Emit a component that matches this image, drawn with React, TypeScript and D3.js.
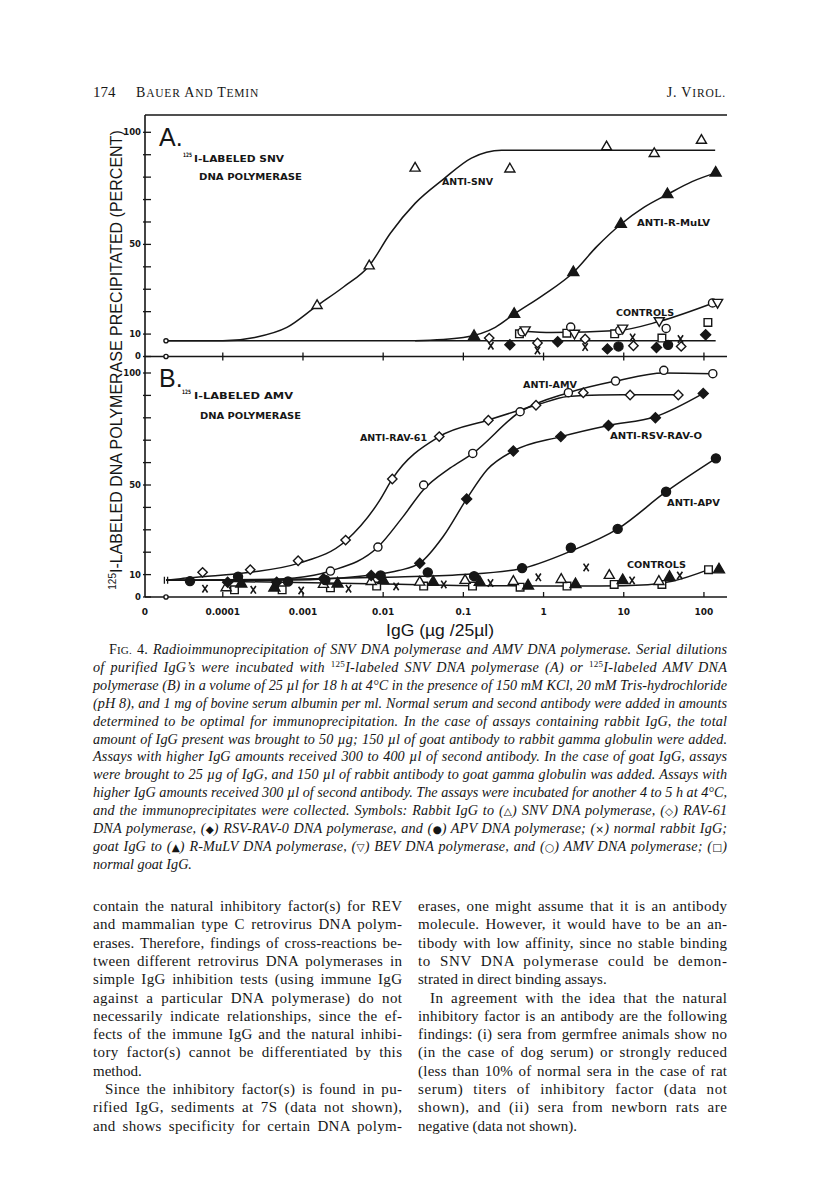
import * as d3 from "d3";
import { useEffect, useRef } from "react";

type Pt = [number, number];

// x = IgG (µg / 25 µl), 0 = no IgG (drawn at the axis break); y = % precipitated

// ---- panel A : 125I-labeled SNV DNA polymerase ----
const aSnvPts: Pt[] = [[0.0015, 22.7], [0.0067, 40.4], [0.025, 84], [0.38, 83.6], [6.1, 93.5], [24, 90.5], [93, 96.4]];
const aSnvFit: Pt[] = [[0, 7], [0.0001, 7], [0.00025, 8.5], [0.00063, 13], [0.0015, 22.7], [0.0032, 31], [0.0067, 40.5], [0.0123, 55], [0.025, 68.3], [0.056, 79], [0.126, 88.5], [0.3, 92], [10, 92], [138, 92]];
const aBaseFit: Pt[] = [[0, 7], [140, 7]];
const aRmulvPts: Pt[] = [[0.136, 9], [0.43, 18.9], [2.35, 37.5], [9.2, 59], [35, 72.3], [140, 81.9]];
const aRmulvFit: Pt[] = [[0.025, 7], [0.1, 8.5], [0.25, 13], [0.43, 18.9], [1, 27.5], [2.35, 37.5], [4.6, 49], [9.2, 59], [17.8, 66.5], [35, 72.3], [71, 78], [140, 81.9]];
const aBevFit: Pt[] = [[0.55, 11.3], [1.26, 10.7], [8.5, 11.6], [28, 15.7], [141, 24.3]];
const aRav61: Pt[] = [[0.21, 8.2], [0.84, 6.0], [3.3, 7.8], [13.2, 4.8], [52, 4.5]];
const aRabbit: Pt[] = [[0.22, 4.8], [0.84, 2.7], [3.3, 4.2], [12.9, 8.5], [51, 7.8]];
const aRsv: Pt[] = [[0.38, 5.2], [1.5, 6.6], [6.25, 3.4], [25.6, 4.0], [105, 9.7]];
const aGoat: Pt[] = [[0.5, 10.1], [1.95, 10.4], [7.7, 10.1], [29.9, 8.2], [112, 15.2]];
const aAmv: Pt[] = [[0.54, 11.0], [2.18, 13.1], [8.9, 11.6], [33.8, 12.5], [128, 23.9]];
const aBev: Pt[] = [[0.59, 11.9], [2.43, 10.4], [9.7, 12.7], [27.7, 16], [148, 24.2]];
const aApv: Pt[] = [[8.6, 4.5], [35.7, 5.2]];
const aZero: Pt[] = [[0, 7], [0, 0]];

// ---- panel B : 125I-labeled AMV DNA polymerase ----
const bRav61Pts: Pt[] = [[0.000056, 11.0], [0.00022, 12.2], [0.00087, 16.2], [0.0034, 25.4], [0.013, 52.7], [0.05, 71.6], [0.205, 78.9], [0.805, 85.6], [3.13, 91.2], [12, 90.2], [47.9, 90.2]];
const bRav61Fit: Pt[] = [[0, 7.5], [0.00003, 8.2], [0.000056, 9], [0.00022, 11], [0.00087, 15], [0.0034, 25], [0.009, 43], [0.013, 52.7], [0.05, 71.6], [0.205, 79], [0.805, 85.6], [2, 89.5], [5, 90.2], [48, 90.3]];
const bAmvPts: Pt[] = [[0.0022, 11.6], [0.0086, 22.3], [0.032, 50], [0.131, 64.1], [0.51, 82.7], [2.04, 91.2], [7.9, 96.4], [31.6, 101.2], [129, 99.7]];
const bAmvFit: Pt[] = [[0, 7.5], [0.0002, 7.5], [0.00079, 8.5], [0.0022, 11.6], [0.0086, 22.3], [0.0178, 36], [0.032, 48], [0.068, 57.5], [0.131, 64.1], [0.51, 82.7], [2.04, 91.2], [7.9, 96.4], [31.6, 100], [129, 99.7]];
const bRsvPts: Pt[] = [[0.000115, 6.6], [0.00047, 6.6], [0.0018, 8.1], [0.0071, 9.6], [0.0286, 15.1], [0.11, 43.8], [0.42, 65.2], [1.64, 71.6], [6.45, 76.6], [24.8, 80], [98, 90.9]];
const bRsvFit: Pt[] = [[0, 7.5], [0.0005, 7.5], [0.003, 8.5], [0.0071, 9.8], [0.0155, 11.8], [0.0286, 15.1], [0.056, 27], [0.11, 43.8], [0.2, 57], [0.42, 65.2], [1.64, 71.6], [6.45, 76.6], [24.8, 80.5], [98, 90.9]];
const bApvPts: Pt[] = [[0.000039, 7.1], [0.000155, 9.1], [0.00065, 6.9], [0.0019, 7.6], [0.0093, 9.6], [0.036, 11.0], [0.136, 9.3], [0.54, 12.9], [2.19, 22], [8.4, 30.4], [33.7, 47], [141, 61.9]];
const bApvFit: Pt[] = [[0, 7.5], [0.001, 8], [0.01, 8.8], [0.1, 10], [0.5, 12.5], [2.19, 20.5], [8.4, 30.4], [33.7, 47], [141, 61.9]];
const bSnv: Pt[] = [[0.00011, 4.1], [0.0018, 5.6], [0.0071, 6.9], [0.0286, 6.6], [0.105, 7.4], [0.42, 6.9], [1.66, 7.8], [6.6, 9.6], [27.4, 6.9]];
const bRmulv: Pt[] = [[0.00017, 5.9], [0.00044, 4.1], [0.0027, 5.9], [0.01, 7.4], [0.042, 6.6], [0.16, 6.6], [0.64, 5.0], [2.5, 5.6], [9.7, 7.4], [37.2, 8.8], [154, 12.2]];
const bRabbit: Pt[] = [[0.00006, 3.7], [0.00024, 3.2], [0.00095, 2.9], [0.0037, 3.7], [0.0145, 4.7], [0.057, 5.6], [0.218, 6.2], [0.86, 8.8], [3.4, 13.2], [12.7, 7.4], [50, 9.6]];
const bGoat: Pt[] = [[0.00014, 3.2], [0.00055, 3.2], [0.0022, 4.1], [0.0083, 4.9], [0.032, 4.9], [0.13, 4.9], [0.51, 4.4], [1.96, 4.9], [7.6, 5.6], [29.9, 5.6], [114, 12.2]];
const bCtrlFit: Pt[] = [[0.0001, 7], [0.01, 5.8], [0.3, 5], [5, 4.9], [20, 5.5], [40, 7], [114, 12.2]];
const bZero: Pt[] = [[0, 0]];
const bBreak: Pt[] = [[0, 7.5]];

// axis ticks
const xTicks = [0.0001, 0.001, 0.01, 0.1, 1, 10, 100];
const xTickLabels = ["0.0001", "0.001", "0.01", "0.1", "1", "10", "100"];
const yMinor = [0, 10, 20, 30, 40, 50, 60, 70, 80, 90, 100];
const yLabeled = [0, 10, 50, 100];

const captionLines = [
  "§FIG. 4.§ Radioimmunoprecipitation of SNV DNA polymerase and AMV DNA polymerase. Serial dilutions",
  "of purified IgG’s were incubated with ^125^I-labeled SNV DNA polymerase (A) or ^125^I-labeled AMV DNA",
  "polymerase (B) in a volume of 25 µl for 18 h at 4°C in the presence of 150 mM KCl, 20 mM Tris-hydrochloride",
  "(pH 8), and 1 mg of bovine serum albumin per ml. Normal serum and second antibody were added in amounts",
  "determined to be optimal for immunoprecipitation. In the case of assays containing rabbit IgG, the total",
  "amount of IgG present was brought to 50 µg; 150 µl of goat antibody to rabbit gamma globulin were added.",
  "Assays with higher IgG amounts received 300 to 400 µl of second antibody. In the case of goat IgG, assays",
  "were brought to 25 µg of IgG, and 150 µl of rabbit antibody to goat gamma globulin was added. Assays with",
  "higher IgG amounts received 300 µl of second antibody. The assays were incubated for another 4 to 5 h at 4°C,",
  "and the immunoprecipitates were collected. Symbols: Rabbit IgG to ([△]) SNV DNA polymerase, ([◇]) RAV-61",
  "DNA polymerase, ([◆]) RSV-RAV-0 DNA polymerase, and ([●]) APV DNA polymerase; ([×]) normal rabbit IgG;",
  "goat IgG to ([▲]) R-MuLV DNA polymerase, ([▽]) BEV DNA polymerase, and ([○]) AMV DNA polymerase; ([□])",
  "normal goat IgG.",
];

// [text, indent, justify]
const leftCol: [string, boolean, boolean][] = [
  ["contain the natural inhibitory factor(s) for REV", false, true],
  ["and mammalian type C retrovirus DNA polym-", false, true],
  ["erases. Therefore, findings of cross-reactions be-", false, true],
  ["tween different retrovirus DNA polymerases in", false, true],
  ["simple IgG inhibition tests (using immune IgG", false, true],
  ["against a particular DNA polymerase) do not", false, true],
  ["necessarily indicate relationships, since the ef-", false, true],
  ["fects of the immune IgG and the natural inhibi-", false, true],
  ["tory factor(s) cannot be differentiated by this", false, true],
  ["method.", false, false],
  ["Since the inhibitory factor(s) is found in pu-", true, true],
  ["rified IgG, sediments at 7S (data not shown),", false, true],
  ["and shows specificity for certain DNA polym-", false, true],
];
const rightCol: [string, boolean, boolean][] = [
  ["erases, one might assume that it is an antibody", false, true],
  ["molecule. However, it would have to be an an-", false, true],
  ["tibody with low affinity, since no stable binding", false, true],
  ["to SNV DNA polymerase could be demon-", false, true],
  ["strated in direct binding assays.", false, false],
  ["In agreement with the idea that the natural", true, true],
  ["inhibitory factor is an antibody are the following", false, true],
  ["findings: (i) sera from germfree animals show no", false, true],
  ["(in the case of dog serum) or strongly reduced", false, true],
  ["(less than 10% of normal sera in the case of rat", false, true],
  ["serum) titers of inhibitory factor (data not", false, true],
  ["shown), and (ii) sera from newborn rats are", false, true],
  ["negative (data not shown).", false, false],
];

const SERIF = "'Liberation Serif', 'Times New Roman', serif";
const LETTER = "'DejaVu Sans', sans-serif";
const INK = "#161616";

// spread a line to the target width: part of the slack between letters, the rest between words
function justify(t: d3.Selection<SVGTextElement, unknown, null, undefined>, width: number) {
  const node = t.node()!;
  const txt = node.textContent || "";
  const len = node.getComputedTextLength();
  const slack = width - len;
  const spaces = txt.split(" ").length - 1;
  const chars = txt.length - 1;
  if (spaces <= 0) return;
  const ls = slack > 0 ? (slack * 0.45) / chars : 0;
  const ws = (slack - ls * chars) / spaces;
  t.style("letter-spacing", `${ls}px`).style("word-spacing", `${ws}px`);
}

export default function App() {
  const svgRef = useRef<SVGSVGElement>(null);

  useEffect(() => {
    const svg = d3.select(svgRef.current);
    svg.selectAll("*").remove();

    const left = 145, right = 727, top = 115;
    const x = d3.scaleLog().domain([10 ** -4.97, 10 ** 2.275]).range([left, 726]);
    const zeroX = 166;
    const xPos = (v: number) => (v === 0 ? zeroX : x(v));
    const yA = d3.scaleLinear().domain([0, 100]).range([356.5, 132.3]);
    const yB = d3.scaleLinear().domain([0, 100]).range([597, 373]);

    svg.append("rect").attr("width", 816).attr("height", 1189).attr("fill", "#fff");

    // running head
    const head = svg.append("g").attr("fill", INK).attr("font-family", SERIF);
    head.append("text").attr("x", 93).attr("y", 97).attr("font-size", 15).text("174");
    const bt = head.append("text").attr("x", 136).attr("y", 97).attr("font-size", 14).attr("letter-spacing", 0.8);
    [["B", 14], ["AUER ", 11.5], ["A", 14], ["ND ", 11.5], ["T", 14], ["EMIN", 11.5]].forEach(([s, f]) =>
      bt.append("tspan").attr("font-size", f).text(s as string));
    const jt = head.append("text").attr("x", 726).attr("y", 97).attr("text-anchor", "end").attr("letter-spacing", 0.8);
    [["J. V", 14], ["IROL.", 11.5]].forEach(([s, f]) => jt.append("tspan").attr("font-size", f).text(s as string));

    const plot = svg.append("g");
    const frame = plot.append("g").attr("stroke", INK).attr("stroke-width", 1.6);
    frame.append("line").attr("x1", left).attr("x2", left).attr("y1", top).attr("y2", yB(0));
    frame.append("line").attr("x1", left).attr("x2", right).attr("y1", top).attr("y2", top);
    frame.append("line").attr("x1", left).attr("x2", right).attr("y1", yA(0)).attr("y2", yA(0));
    frame.append("line").attr("x1", left).attr("x2", right).attr("y1", yB(0)).attr("y2", yB(0));

    // x ticks on the panel divider and on the bottom axis
    plot.append("g").selectAll("line").data(xTicks).join("line")
      .attr("x1", d => x(d)).attr("x2", d => x(d))
      .attr("y1", yB(0)).attr("y2", yB(0) - 5)
      .attr("stroke", INK).attr("stroke-width", 1.3);
    plot.append("g").selectAll("line").data(xTicks).join("line")
      .attr("x1", d => x(d)).attr("x2", d => x(d))
      .attr("y1", yA(0) - 4).attr("y2", yA(0) + 4)
      .attr("stroke", INK).attr("stroke-width", 1.3);

    plot.append("g").selectAll("text").data(xTicks).join("text")
      .attr("x", d => x(d)).attr("y", 615)
      .attr("text-anchor", "middle").attr("font-family", LETTER).attr("font-weight", "bold")
      .attr("font-size", 9).attr("fill", INK)
      .text((d, i) => xTickLabels[i]);
    plot.append("text").attr("x", left).attr("y", 615).attr("text-anchor", "middle")
      .attr("font-family", LETTER).attr("font-weight", "bold").attr("font-size", 9).attr("fill", INK).text("0");

    plot.append("text").attr("x", 440).attr("y", 636).attr("text-anchor", "middle")
      .attr("font-family", "'Liberation Sans', sans-serif").attr("font-size", 16.5).attr("fill", INK)
      .attr("textLength", 108).attr("lengthAdjust", "spacingAndGlyphs")
      .text("IgG (µg /25µl)");

    // y axes for both panels
    [yA, yB].forEach(y => {
      plot.append("g").selectAll("line").data(yMinor).join("line")
        .attr("x1", left - 2).attr("x2", left + 6)
        .attr("y1", d => y(d)).attr("y2", d => y(d))
        .attr("stroke", INK).attr("stroke-width", 1.3);
      plot.append("g").selectAll("text").data(yLabeled).join("text")
        .attr("x", left - 4).attr("y", d => y(d)).attr("dy", "0.35em")
        .attr("text-anchor", "end").attr("font-family", LETTER).attr("font-weight", "bold")
        .attr("font-size", 8.5).attr("fill", INK)
        .text(d => String(d));
    });

    // rotated y title
    const yt = plot.append("text").attr("transform", "translate(122,360) rotate(-90)")
      .attr("text-anchor", "middle").attr("font-family", "'Liberation Sans', sans-serif")
      .attr("font-size", 16).attr("fill", INK);
    yt.append("tspan").attr("font-size", 10).attr("dy", -6).text("125");
    yt.append("tspan").attr("dy", 6).text("I-LABELED DNA POLYMERASE PRECIPITATED (PERCENT)");

    // fitted curves
    const lineOf = (y: d3.ScaleLinear<number, number>) =>
      d3.line<Pt>().x(d => xPos(d[0])).y(d => y(d[1])).curve(d3.curveMonotoneX);
    const curves = plot.append("g").attr("fill", "none").attr("stroke", INK).attr("stroke-width", 1.5);
    [aSnvFit, aBaseFit, aRmulvFit, aBevFit].forEach(c => curves.append("path").attr("d", lineOf(yA)(c)));
    [bRav61Fit, bAmvFit, bRsvFit, bApvFit, bCtrlFit].forEach(c => curves.append("path").attr("d", lineOf(yB)(c)));

    // markers
    const shapes: Record<string, { d: string; fill: string; rot?: number }> = {
      triOpen: { d: d3.symbol(d3.symbolTriangle, 44)()!, fill: "#fff" },
      triFill: { d: d3.symbol(d3.symbolTriangle, 52)()!, fill: INK },
      triDown: { d: d3.symbol(d3.symbolTriangle, 44)()!, fill: "#fff", rot: 180 },
      diaOpen: { d: d3.symbol(d3.symbolSquare, 44)()!, fill: "#fff", rot: 45 },
      diaFill: { d: d3.symbol(d3.symbolSquare, 50)()!, fill: INK, rot: 45 },
      cirOpen: { d: d3.symbol(d3.symbolCircle, 52)()!, fill: "#fff" },
      cirFill: { d: d3.symbol(d3.symbolCircle, 64)()!, fill: INK },
      sqOpen: { d: d3.symbol(d3.symbolSquare, 58)()!, fill: "#fff" },
      cross: { d: "M-2.6,-3.8L2.6,3.8M2.6,-3.8L-2.6,3.8", fill: "none" },
      dot: { d: d3.symbol(d3.symbolCircle, 14)()!, fill: "#fff" },
    };
    const marks = (pts: Pt[], kind: string, y: d3.ScaleLinear<number, number>) => {
      const s = shapes[kind];
      plot.append("g").selectAll("path").data(pts).join("path")
        .attr("d", s.d)
        .attr("transform", d => `translate(${xPos(d[0])},${y(d[1])}) rotate(${s.rot || 0})`)
        .attr("fill", s.fill).attr("stroke", INK).attr("stroke-width", kind === "cross" ? 1.6 : 1.4);
    };
    marks(aSnvPts, "triOpen", yA);
    marks(aRmulvPts, "triFill", yA);
    marks(aRav61, "diaOpen", yA);
    marks(aRabbit, "cross", yA);
    marks(aRsv, "diaFill", yA);
    marks(aGoat, "sqOpen", yA);
    marks(aAmv, "cirOpen", yA);
    marks(aBev, "triDown", yA);
    marks(aApv, "cirFill", yA);
    marks(aZero, "dot", yA);

    marks(bGoat, "sqOpen", yB);
    marks(bSnv, "triOpen", yB);
    marks(bRmulv, "triFill", yB);
    marks(bRabbit, "cross", yB);
    marks(bApvPts, "cirFill", yB);
    marks(bRsvPts, "diaFill", yB);
    marks(bAmvPts, "cirOpen", yB);
    marks(bRav61Pts, "diaOpen", yB);
    marks(bZero, "dot", yB);
    plot.append("g").selectAll("path").data(bBreak).join("path")
      .attr("d", d => {
        const cx = xPos(d[0]), cy = yB(d[1]);
        return `M${cx - 1.6},${cy - 3.5}V${cy + 3.5}M${cx + 1.6},${cy - 3.5}V${cy + 3.5}`;
      })
      .attr("stroke", INK).attr("stroke-width", 1.3);

    // panel lettering
    const lab = plot.append("g").attr("font-family", LETTER).attr("font-weight", "bold").attr("fill", INK);
    const word = (t: string, x0: number, y0: number, len: number, fs = 9.5) =>
      lab.append("text").attr("x", x0).attr("y", y0).attr("font-size", fs)
        .attr("textLength", len).attr("lengthAdjust", "spacingAndGlyphs").text(t);
    const sup = (x0: number, y0: number) =>
      lab.append("text").attr("x", x0).attr("y", y0).attr("font-size", 6)
        .attr("textLength", 9).attr("lengthAdjust", "spacingAndGlyphs").text("125");

    plot.append("text").attr("x", 159).attr("y", 146).attr("font-family", "'Liberation Sans', sans-serif")
      .attr("font-size", 25).attr("fill", INK).text("A.");
    sup(183, 157);
    word("I-LABELED SNV", 194, 162, 90);
    word("DNA POLYMERASE", 199, 180, 103);
    word("ANTI-SNV", 442, 185, 51);
    word("ANTI-R-MuLV", 637, 226, 73);
    word("CONTROLS", 616, 316, 58);

    plot.append("text").attr("x", 159).attr("y", 387).attr("font-family", "'Liberation Sans', sans-serif")
      .attr("font-size", 25).attr("fill", INK).text("B.");
    sup(182, 394);
    word("I-LABELED AMV", 194, 399, 99);
    word("DNA POLYMERASE", 200, 419, 101);
    word("ANTI-RAV-61", 360, 441, 67);
    word("ANTI-AMV", 523, 388, 54);
    word("ANTI-RSV-RAV-O", 610, 439, 92);
    word("ANTI-APV", 667, 506, 53);
    word("CONTROLS", 627, 568, 59);

    // caption
    const capFs = 14.2;
    const cap = svg.append("g").attr("font-family", SERIF).attr("fill", INK).attr("font-size", capFs);
    const capLeft = 93, capRight = 727;
    captionLines.forEach((line, i) => {
      const x0 = i === 0 ? capLeft + 16 : capLeft;
      const t = cap.append("text").attr("x", x0).attr("y", 654 + i * 17.9).attr("font-style", "italic");
      const parts = line.split(/(§[^§]+§|\^[^^]+\^|\[[^\]]+\])/).filter(p => p.length);
      let shifted = false;
      parts.forEach(p => {
        if (p.startsWith("§")) {
          t.append("tspan").attr("font-style", "normal").text("F");
          t.append("tspan").attr("font-style", "normal").attr("font-size", capFs * 0.78).text("IG.");
          t.append("tspan").attr("font-style", "normal").text(" 4.");
        } else if (p.startsWith("^")) {
          t.append("tspan").attr("font-size", 9).attr("font-style", "normal").attr("dy", -5).text(p.slice(1, -1));
          shifted = true;
        } else if (p.startsWith("[")) {
          t.append("tspan").attr("font-family", "'DejaVu Sans', sans-serif").attr("font-style", "normal")
            .attr("font-size", 10.5).attr("dy", shifted ? 5 : null).text(p.slice(1, -1));
          shifted = false;
        } else {
          t.append("tspan").attr("dy", shifted ? 5 : null).text(p);
          shifted = false;
        }
      });
      if (i < captionLines.length - 1) justify(t as any, capRight - x0);
    });

    // body text, two justified columns
    const body = svg.append("g").attr("font-family", SERIF).attr("fill", INK).attr("font-size", 15);
    const column = (lines: [string, boolean, boolean][], x0: number, x1: number) => {
      lines.forEach(([txt, indent, just], i) => {
        const xs = indent ? x0 + 12 : x0;
        const t = body.append("text").attr("x", xs).attr("y", 911 + i * 18.3).text(txt);
        if (just) justify(t as any, x1 - xs);
      });
    };
    column(leftCol, 93, 402);
    column(rightCol, 418, 727);
  }, []);

  return (
    <svg ref={svgRef} width={816} height={1189}
      style={{ position: "absolute", left: 0, top: 0, display: "block" }} />
  );
}
